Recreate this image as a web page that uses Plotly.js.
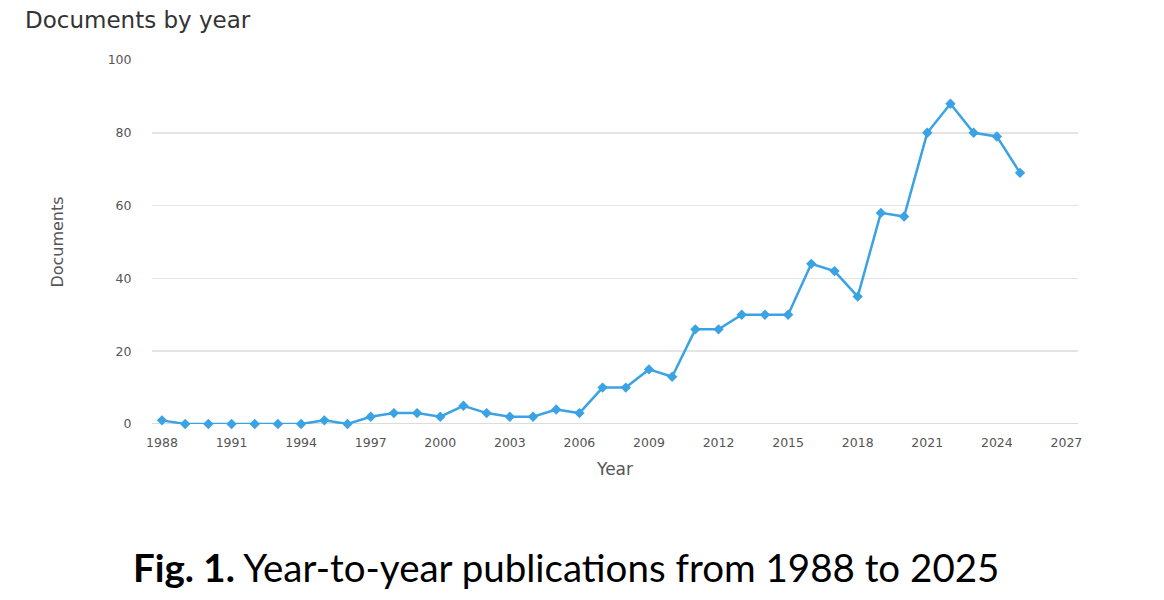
<!DOCTYPE html>
<html>
<head>
<meta charset="utf-8">
<script src="https://cdn.plot.ly/plotly-3.0.1.min.js"></script>
<style>html,body{margin:0;padding:0;background:#fff;}#chart{width:1164px;height:600px;}</style>
</head>
<body>
<div id="chart"></div>
<script>
const years = [1988,1989,1990,1991,1992,1993,1994,1995,1996,1997,1998,1999,2000,2001,2002,2003,2004,2005,2006,2007,2008,2009,2010,2011,2012,2013,2014,2015,2016,2017,2018,2019,2020,2021,2022,2023,2024,2025];
const documents = [1,0,0,0,0,0,0,1,0,2,3,3,2,5,3,2,2,4,3,10,10,15,13,26,26,30,30,30,44,42,35,58,57,80,88,80,79,69];
const xTicks = [1988,1991,1994,1997,2000,2003,2006,2009,2012,2015,2018,2021,2024,2027];
const yTicks = [0,20,40,60,80,100];
const chartTitle = "Documents by year";
const caption = "<b>Fig. 1.</b> Year-to-year publications from 1988 to 2025";

const trace = {
  x: years, y: documents, type: 'scatter', mode: 'lines+markers',
  line: {color: '#3ba2e3', width: 2.5},
  marker: {color: '#3ba2e3', size: 8, symbol: 'diamond'},
  cliponaxis: false, hoverinfo: 'x+y'
};

const layout = {
  width: 1164, height: 600,
  paper_bgcolor: '#ffffff', plot_bgcolor: '#ffffff',
  margin: {l: 152, r: 86, t: 60, b: 176},
  showlegend: false,
  font: {family: 'DejaVu Sans, sans-serif', color: '#555'},
  title: {text: chartTitle, xref: 'container', yref: 'container', x: 25/1164, xanchor: 'left', y: 1 - 20/600, yanchor: 'middle',
          font: {family: 'DejaVu Sans, sans-serif', size: 23, color: '#333'}},
  xaxis: {
    range: [1987.57, 2027.5], tickvals: xTicks, ticktext: xTicks.map(String),
    showgrid: false, zeroline: false, showline: false,
    ticks: 'outside', ticklen: 7, tickcolor: 'rgba(0,0,0,0)',
    tickfont: {size: 12.5, color: '#555'},
    title: {text: 'Year', font: {size: 17, color: '#555'}, standoff: 14}
  },
  yaxis: {
    range: [0, 100], tickvals: yTicks, ticktext: yTicks.map(String),
    showgrid: true, gridcolor: '#e4e4e4', gridwidth: 1.5,
    zeroline: false, showline: false,
    ticks: 'outside', ticklen: 17, tickcolor: 'rgba(0,0,0,0)',
    tickfont: {size: 12.5, color: '#555'},
    title: {text: 'Documents', font: {size: 16, color: '#555'}, standoff: 40}
  },
  shapes: [{type: 'line', xref: 'paper', yref: 'y', x0: 0, x1: 1, y0: 0, y1: 0, line: {color: '#dcdcdc', width: 2}, layer: 'below'}],
  annotations: [{
    text: caption, xref: 'paper', yref: 'paper', x: (566-152)/926, y: (424-567)/364,
    xanchor: 'center', yanchor: 'middle', showarrow: false,
    font: {family: 'Lato, Carlito, sans-serif', size: 38.5, color: '#000'}
  }]
};

Plotly.newPlot('chart', [trace], layout, {displayModeBar: false, staticPlot: true});
</script>
</body>
</html>
